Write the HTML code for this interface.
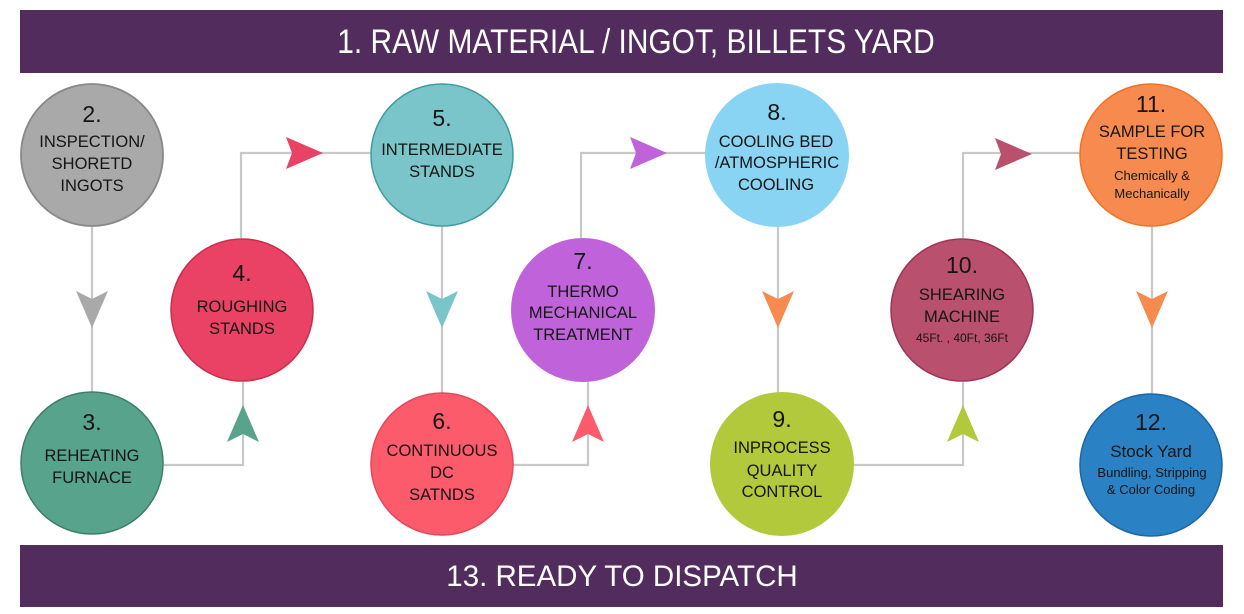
<!DOCTYPE html>
<html><head><meta charset="utf-8"><style>
html,body{margin:0;padding:0;background:#fff;}
svg{display:block;}
text{font-family:"Liberation Sans",Arial,sans-serif;fill:#151515;text-anchor:middle;}
.n{font-size:23px;}
.l{font-size:16.5px;}
.s{font-size:13px;}
.b{fill:#fff;font-size:29.5px;}
</style></head><body>
<svg width="1244" height="614" viewBox="0 0 1244 614" xmlns="http://www.w3.org/2000/svg">
<rect x="0" y="0" width="1244" height="614" fill="#fff"/>
<rect x="20" y="10" width="1203" height="63" fill="#532c5e"/>
<rect x="20" y="545" width="1203" height="62" fill="#532c5e"/>
<text class="b" transform="translate(636,53) scale(1,1.16)" x="0" y="0" style="font-size:29.9px">1. RAW MATERIAL / INGOT, BILLETS YARD</text>
<text class="b" x="622" y="586">13. READY TO DISPATCH</text>

<!-- connectors -->
<g stroke="#c8c8c8" stroke-width="2.2" fill="none">
<path d="M92 226 V392"/>
<path d="M163 465 H243 V382"/>
<path d="M241 238 V153 H371"/>
<path d="M442 226 V393"/>
<path d="M513 465 H588 V382"/>
<path d="M581 238 V153 H706"/>
<path d="M778 226 V393"/>
<path d="M854 465 H963 V382"/>
<path d="M963 238 V153 H1080"/>
<path d="M1152 226 V393"/>
</g>

<!-- arrowheads -->
<polygon points="76,291 92,299 108,291 92,328" fill="#a9a9a9"/>
<polygon points="227,442 243,434 259,442 243,405" fill="#57a38c"/>
<polygon points="286,137 292,153 286,169 323,153" fill="#ea4264"/>
<polygon points="426,291 442,299 458,291 442,328" fill="#7ac5c9"/>
<polygon points="572,442 588,434 604,442 588,405" fill="#fc5b6b"/>
<polygon points="630,137 636,153 630,169 667,153" fill="#c063da"/>
<polygon points="762,291 778,299 794,291 778,328" fill="#f78b4f"/>
<polygon points="947,442 963,434 979,442 963,405" fill="#b1c93a"/>
<polygon points="995,138 1001,154 995,170 1032,154" fill="#b8506e"/>
<polygon points="1136,291 1152,299 1168,291 1152,328" fill="#f78b4f"/>

<!-- circles -->
<circle cx="92" cy="155" r="71" fill="#a9a9a9" stroke="#888" stroke-width="1.8"/>
<circle cx="92" cy="463" r="71" fill="#58a38c" stroke="#3d7f6a" stroke-width="1.5"/>
<circle cx="242" cy="310" r="71" fill="#ea4264" stroke="#cc2d4d" stroke-width="1.5"/>
<circle cx="442" cy="155" r="71" fill="#7ac5c9" stroke="#3c9ca1" stroke-width="1.5"/>
<circle cx="442" cy="464" r="71" fill="#fc5b6b" stroke="#e54858" stroke-width="1.5"/>
<circle cx="583" cy="310" r="72" fill="#c063da"/>
<circle cx="777" cy="155" r="72" fill="#89d4f3"/>
<circle cx="782" cy="464" r="72" fill="#b1c93a"/>
<circle cx="962" cy="310" r="71" fill="#b8506e" stroke="#a0335a" stroke-width="1.5"/>
<circle cx="1151" cy="155" r="71" fill="#f78b4f" stroke="#f5701f" stroke-width="1.5"/>
<circle cx="1151" cy="465" r="71" fill="#2a81c3" stroke="#1b67a5" stroke-width="1.5"/>

<!-- labels -->
<text class="n" x="92" y="122">2.</text>
<text class="l" x="92" y="147">INSPECTION/</text>
<text class="l" x="92" y="169">SHORETD</text>
<text class="l" x="92" y="191">INGOTS</text>

<text class="n" x="92" y="430">3.</text>
<text class="l" x="92" y="461">REHEATING</text>
<text class="l" x="92" y="483">FURNACE</text>

<text class="n" x="242" y="281">4.</text>
<text class="l" x="242" y="312">ROUGHING</text>
<text class="l" x="242" y="334">STANDS</text>

<text class="n" x="442" y="126">5.</text>
<text class="l" x="442" y="155">INTERMEDIATE</text>
<text class="l" x="442" y="177">STANDS</text>

<text class="n" x="442" y="429">6.</text>
<text class="l" x="442" y="456">CONTINUOUS</text>
<text class="l" x="442" y="478">DC</text>
<text class="l" x="442" y="500">SATNDS</text>

<text class="n" x="583" y="269">7.</text>
<text class="l" x="583" y="297">THERMO</text>
<text class="l" x="583" y="318">MECHANICAL</text>
<text class="l" x="583" y="340">TREATMENT</text>

<text class="n" x="777" y="120">8.</text>
<text class="l" x="776" y="147">COOLING BED</text>
<text class="l" x="777" y="168">/ATMOSPHERIC</text>
<text class="l" x="776" y="190">COOLING</text>

<text class="n" x="782" y="427">9.</text>
<text class="l" x="782" y="453">INPROCESS</text>
<text class="l" x="782" y="476">QUALITY</text>
<text class="l" x="782" y="497">CONTROL</text>

<text class="n" x="962" y="273">10.</text>
<text class="l" x="962" y="300">SHEARING</text>
<text class="l" x="962" y="322">MACHINE</text>
<text class="s" x="962" y="342" style="font-size:12px">45Ft. , 40Ft, 36Ft</text>

<text class="n" x="1151" y="112">11.</text>
<text class="l" x="1152" y="137">SAMPLE FOR</text>
<text class="l" x="1152" y="159">TESTING</text>
<text class="s" x="1152" y="180">Chemically &amp;</text>
<text class="s" x="1152" y="198">Mechanically</text>

<text class="n" x="1151" y="430">12.</text>
<text class="l" x="1151" y="457" style="font-size:17px">Stock Yard</text>
<text class="s" x="1152" y="477">Bundling, Stripping</text>
<text class="s" x="1151" y="494">&amp; Color Coding</text>
</svg>
</body></html>
